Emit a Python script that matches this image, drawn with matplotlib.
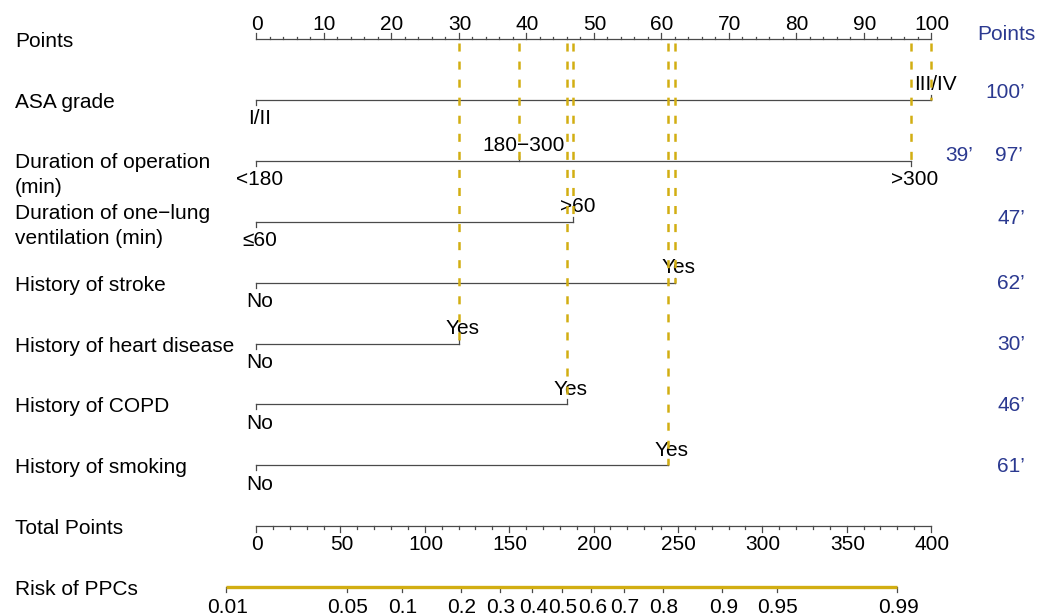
import numpy as np
import matplotlib.pyplot as plt
from matplotlib import transforms

plt.rcParams['font.family'] = ['Liberation Sans', 'DejaVu Sans']
plt.rcParams['lines.scale_dashes'] = False

# ---- data ----
row_labels = ['Points', 'ASA grade', 'Duration of operation\n(min)',
              'Duration of one\u2212lung\nventilation (min)', 'History of stroke',
              'History of heart disease', 'History of COPD', 'History of smoking',
              'Total Points', 'Risk of PPCs']

level_names = [['I/II', 'III/IV'],
               ['<180', '180\u2212300', '>300'],
               ['\u226460', '>60'],
               ['No', 'Yes'],
               ['No', 'Yes'],
               ['No', 'Yes'],
               ['No', 'Yes']]
level_points = [[0, 100],
                [0, 39, 97],
                [0, 47],
                [0, 62],
                [0, 30],
                [0, 46],
                [0, 61]]
# highlighted (patient) scores per variable
chosen_points = [[100], [39, 97], [47], [62], [30], [46], [61]]

points_ticks = np.arange(0, 101, 10)
total_ticks = np.arange(0, 401, 50)
risk_labels = ['0.01', '0.05', '0.1', '0.2', '0.3', '0.4', '0.5', '0.6', '0.7',
               '0.8', '0.9', '0.95', '0.99']
risk_total = [-17.7, 53.8, 86.4, 121.2, 144.5, 163.7, 181.2, 198.7, 217.9,
              241.2, 276.3, 308.6, 380.1]

# ---- layout ----
W, H = 1050, 615
X0 = 256          # pixel of 0 points
PX = 6.75         # pixels per point
TOP = 39          # pixel row of Points axis
GAP = 60.9        # pixels between rows

fig = plt.figure(figsize=(W / 100, H / 100), dpi=100)
ax = fig.add_axes([0, 0, 1, 1])
ax.axis('off')
ax.set_xlim(-X0 / PX, (W - X0) / PX)
ax.set_ylim(9 + (H - (TOP + 9 * GAP)) / GAP, -TOP / GAP)

line_c = '#4a4a4a'
gold = '#D2AE12'
blue = '#2B3990'
fs = 15
fs_lab = 15


def off(dx, dy):
    return transforms.offset_copy(ax.transData, fig=fig, x=dx, y=dy, units='dots')


def px(n):
    return n / GAP


left_tr = transforms.blended_transform_factory(fig.transFigure, ax.transData)


def left_off(dy):
    return transforms.offset_copy(left_tr, fig=fig, x=0, y=dy, units='dots')


# left labels
label_dy = {2: 14, 3: 4}
for i, name in enumerate(row_labels):
    dy = label_dy.get(i, 2.5)
    ax.text(15 / W, i, name, transform=left_off(-dy),
            ha='left', va='center', fontsize=fs_lab, linespacing=1.38)

# Points axis (row 0)
ax.plot([0, 100], [0, 0], color=line_c, lw=0.9)
for v in np.arange(0, 101, 2):
    ln = 6 if v % 10 == 0 else 2.5
    ax.plot([v, v], [0, -px(ln)], color=line_c, lw=0.9)
for v in points_ticks:
    ax.text(v, 0, str(v), transform=off(1, 15), ha='center', va='center', fontsize=fs)
ax.text(1006 / W, 0, 'Points', transform=left_off(5),
        ha='center', va='center', fontsize=fs_lab, color=blue)

# right-hand score tags, vertical nudge per row
tag_dy = [7, 5, 3, -1, -1, -1, -1]

# variable rows
for k, (names, pts) in enumerate(zip(level_names, level_points)):
    r = k + 1
    ax.plot([min(pts), max(pts)], [r, r], color=line_c, lw=0.9)
    for j, (nm, p) in enumerate(zip(names, pts)):
        up = j % 2 == 1
        ax.plot([p, p], [r, r - px(5) if up else r + px(5)], color=line_c, lw=0.9)
        ax.text(p, r, nm, transform=off(4, 15 if up else -19),
                ha='center', va='center', fontsize=fs)
    for p in chosen_points[k]:
        ax.plot([p, p], [px(4), r], color=gold, lw=1.8,
                dashes=(5.8, 7.2), zorder=4)
    tags = [f'{p}\u2019' for p in chosen_points[k]]
    xs = [1025] if len(tags) == 1 else [973, 1023]
    for t, xr in zip(tags, xs):
        ax.text(xr / W, r, t, transform=left_off(tag_dy[k]),
                ha='right', va='center', fontsize=fs_lab, color=blue)

# Total Points axis (row 8)
ax.plot([0, 100], [8, 8], color=line_c, lw=0.9)
for v in np.arange(0, 401, 10):
    ln = 6 if v % 50 == 0 else 3
    ax.plot([v / 4, v / 4], [8, 8 + px(ln)], color=line_c, lw=0.9)
for v in total_ticks:
    ax.text(v / 4, 8, str(v), transform=off(1, -18), ha='center', va='center', fontsize=fs)

# Risk axis (row 9)
ax.plot([risk_total[0] / 4, risk_total[-1] / 4], [9, 9], color=gold, lw=2.4,
        solid_capstyle='butt', zorder=3)
for lab, t in zip(risk_labels, risk_total):
    ax.plot([t / 4, t / 4], [9, 9 + px(5)], color=line_c, lw=0.9)
    ax.text(t / 4, 9, lab, transform=off(1, -20), ha='center', va='center', fontsize=fs)

fig.savefig('out.png', dpi=100)
